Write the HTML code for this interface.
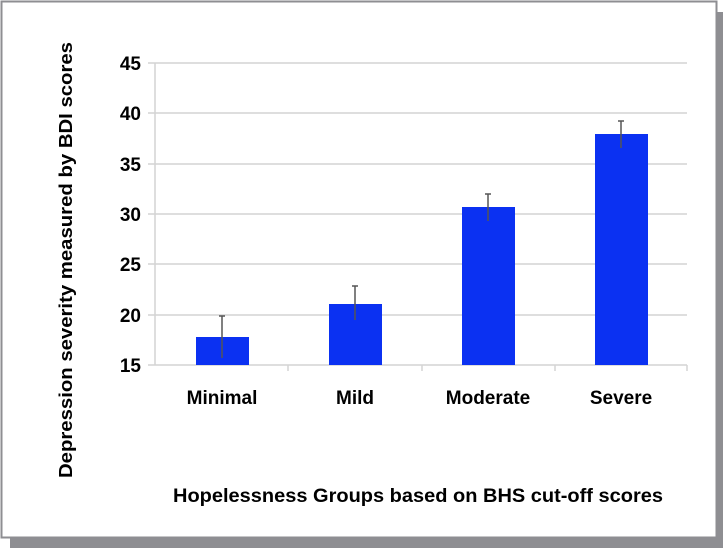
<!DOCTYPE html>
<html><head><meta charset="utf-8"><style>
html,body{margin:0;padding:0;background:#fff;}
body{width:728px;height:551px;overflow:hidden;}
</style></head><body>
<svg width="728" height="551" xmlns="http://www.w3.org/2000/svg" font-family="Liberation Sans, sans-serif">
<rect x="0" y="0" width="728" height="551" fill="#fff"/>
<rect x="10" y="12" width="713" height="536" fill="#8e8e92"/>
<rect x="1.5" y="1.5" width="715" height="536" fill="#fff" stroke="#8e8e92" stroke-width="2"/>
<g stroke="#d4d4d4" stroke-width="1.5">
<line x1="148" y1="63" x2="687" y2="63"/>
<line x1="148" y1="113" x2="687" y2="113"/>
<line x1="148" y1="164" x2="687" y2="164"/>
<line x1="148" y1="214" x2="687" y2="214"/>
<line x1="148" y1="264" x2="687" y2="264"/>
<line x1="148" y1="315" x2="687" y2="315"/>
<line x1="148" y1="365" x2="687" y2="365"/>
<line x1="155" y1="63" x2="155" y2="365"/>
<line x1="288" y1="365" x2="288" y2="371"/>
<line x1="422" y1="365" x2="422" y2="371"/>
<line x1="555" y1="365" x2="555" y2="371"/>
<line x1="687" y1="365" x2="687" y2="371"/>
</g>
<g fill="#0b31f2">
<rect x="196" y="337" width="53" height="28"/>
<rect x="329" y="304" width="53" height="61"/>
<rect x="462" y="207" width="53" height="158"/>
<rect x="595" y="134" width="53" height="231"/>
</g>
<g stroke="#555" stroke-width="1.5">
<line x1="222" y1="316" x2="222" y2="358"/><line x1="219" y1="316" x2="225" y2="316"/>
<line x1="355" y1="286" x2="355" y2="320"/><line x1="352" y1="286" x2="358" y2="286"/>
<line x1="488" y1="194" x2="488" y2="221"/><line x1="485" y1="194" x2="491" y2="194"/>
<line x1="621" y1="121" x2="621" y2="148"/><line x1="618" y1="121" x2="624" y2="121"/>
</g>
<g font-size="19" font-weight="bold" text-anchor="end" fill="#000">
<text x="141" y="70">45</text>
<text x="141" y="120">40</text>
<text x="141" y="171">35</text>
<text x="141" y="221">30</text>
<text x="141" y="271">25</text>
<text x="141" y="322">20</text>
<text x="141" y="372">15</text>
</g>
<g font-size="19" font-weight="bold" text-anchor="middle" fill="#000">
<text x="222" y="404">Minimal</text>
<text x="355" y="404">Mild</text>
<text x="488" y="404">Moderate</text>
<text x="621" y="404">Severe</text>
</g>
<text x="0" y="0" transform="translate(72,260) rotate(-90)" font-size="18.5" font-weight="bold" text-anchor="middle" textLength="436" lengthAdjust="spacingAndGlyphs">Depression severity measured by BDI scores</text>
<text x="418" y="502" font-size="19" font-weight="bold" text-anchor="middle" textLength="490" lengthAdjust="spacingAndGlyphs">Hopelessness Groups based on BHS cut-off scores</text>
</svg>
</body></html>
